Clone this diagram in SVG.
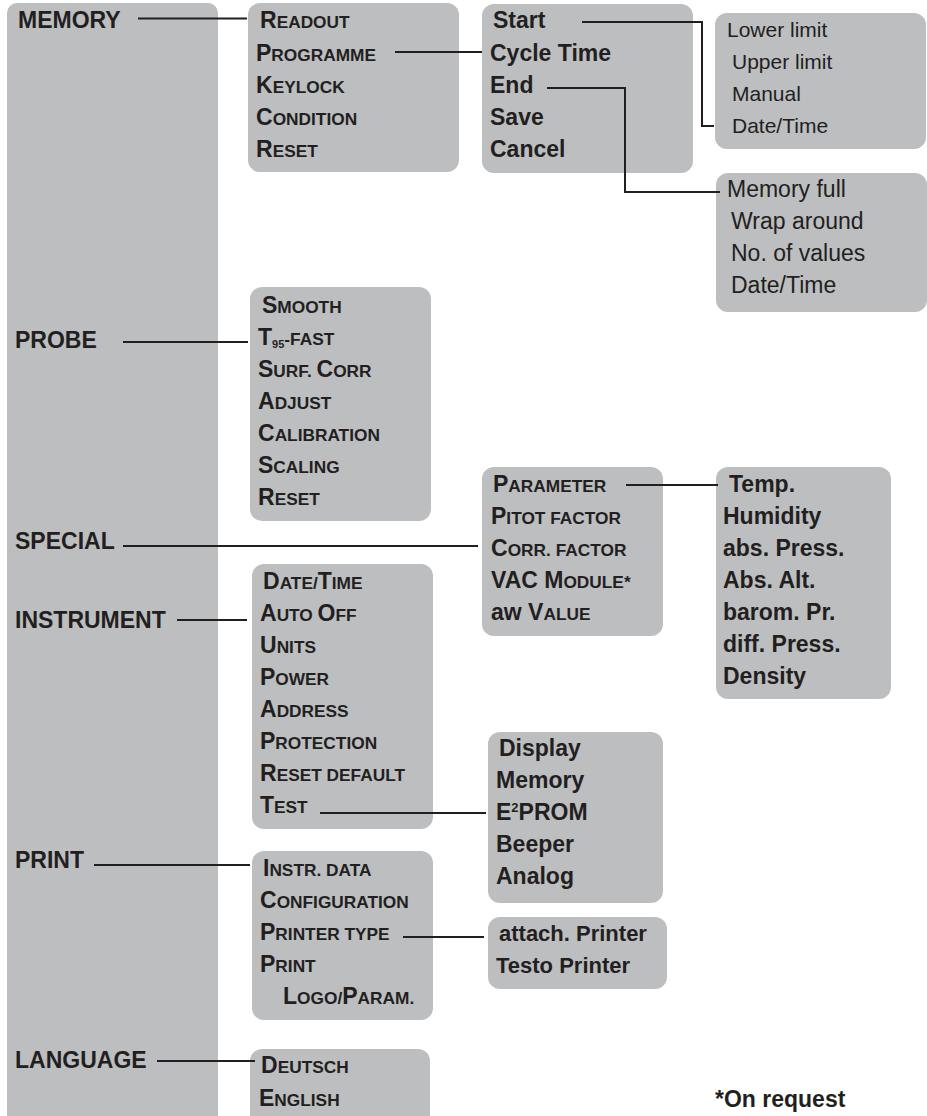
<svg xmlns="http://www.w3.org/2000/svg" width="927" height="1116" viewBox="0 0 927 1116">
<style>
.box{fill:#bcbec0}
.t{font-family:"Liberation Sans",Arial,sans-serif;font-weight:bold;font-size:23px;fill:#231f20}
.lt{font-weight:normal}
.sm{font-size:21px}
.pr{font-size:22px}
.sc{font-size:17.3px}
.sub{font-size:11px}
.sup{font-size:13px}
.conn{fill:none;stroke:#231f20;stroke-width:2}
</style>
<rect width="927" height="1116" fill="#ffffff"/>
<g id="main-menu">
<rect class="box" x="7" y="3" width="211" height="1130" rx="10"/>
<text class="t" x="18" y="28">MEMORY</text>
<text class="t" x="15" y="348">PROBE</text>
<text class="t" x="15" y="549">SPECIAL</text>
<text class="t" x="15" y="628">INSTRUMENT</text>
<text class="t" x="15" y="868">PRINT</text>
<text class="t" x="15" y="1068">LANGUAGE</text>
</g>
<g id="memory-menu">
<rect class="box" x="248" y="3" width="211" height="169" rx="12"/>
<text class="t" x="260" y="28">R<tspan class="sc">EADOUT</tspan></text>
<text class="t" x="256" y="61">P<tspan class="sc">ROGRAMME</tspan></text>
<text class="t" x="256" y="93">K<tspan class="sc">EYLOCK</tspan></text>
<text class="t" x="256" y="125">C<tspan class="sc">ONDITION</tspan></text>
<text class="t" x="256" y="157">R<tspan class="sc">ESET</tspan></text>
</g>
<g id="programme-menu">
<rect class="box" x="482" y="4" width="211" height="169" rx="12"/>
<text class="t" x="493" y="28">Start</text>
<text class="t" x="490" y="61">Cycle Time</text>
<text class="t" x="490" y="93">End</text>
<text class="t" x="490" y="125">Save</text>
<text class="t" x="490" y="157">Cancel</text>
</g>
<g id="start-menu">
<rect class="box" x="715" y="13" width="211" height="136" rx="12"/>
<text class="t lt sm" x="727" y="37">Lower limit</text>
<text class="t lt sm" x="732" y="69">Upper limit</text>
<text class="t lt sm" x="732" y="101">Manual</text>
<text class="t lt sm" x="732" y="133">Date/Time</text>
</g>
<g id="end-menu">
<rect class="box" x="716" y="173" width="211" height="139" rx="12"/>
<text class="t lt" x="727" y="197">Memory full</text>
<text class="t lt" x="731" y="229">Wrap around</text>
<text class="t lt" x="731" y="261">No. of values</text>
<text class="t lt" x="731" y="293">Date/Time</text>
</g>
<g id="probe-menu">
<rect class="box" x="250" y="287" width="181" height="234" rx="12"/>
<text class="t" x="262" y="313">S<tspan class="sc">MOOTH</tspan></text>
<text class="t" x="258" y="345">T<tspan class="sub" dy="3">95</tspan><tspan class="sc" dy="-3">-FAST</tspan></text>
<text class="t" x="258" y="377">S<tspan class="sc">URF. </tspan>C<tspan class="sc">ORR</tspan></text>
<text class="t" x="258" y="409">A<tspan class="sc">DJUST</tspan></text>
<text class="t" x="258" y="441">C<tspan class="sc">ALIBRATION</tspan></text>
<text class="t" x="258" y="473">S<tspan class="sc">CALING</tspan></text>
<text class="t" x="258" y="505">R<tspan class="sc">ESET</tspan></text>
</g>
<g id="special-menu">
<rect class="box" x="482" y="467" width="181" height="169" rx="12"/>
<text class="t" x="493" y="492">P<tspan class="sc">ARAMETER</tspan></text>
<text class="t" x="491" y="524">P<tspan class="sc">ITOT FACTOR</tspan></text>
<text class="t" x="491" y="556">C<tspan class="sc">ORR. FACTOR</tspan></text>
<text class="t" x="491" y="588">VAC M<tspan class="sc">ODULE*</tspan></text>
<text class="t" x="491" y="620">aw V<tspan class="sc">ALUE</tspan></text>
</g>
<g id="parameter-menu">
<rect class="box" x="716" y="467" width="175" height="232" rx="12"/>
<text class="t" x="729" y="492">Temp.</text>
<text class="t" x="723" y="524">Humidity</text>
<text class="t" x="723" y="556">abs. Press.</text>
<text class="t" x="723" y="588">Abs. Alt.</text>
<text class="t" x="723" y="620">barom. Pr.</text>
<text class="t" x="723" y="652">diff. Press.</text>
<text class="t" x="723" y="684">Density</text>
</g>
<g id="instrument-menu">
<rect class="box" x="252" y="564" width="181" height="265" rx="12"/>
<text class="t" x="263" y="589">D<tspan class="sc">ATE/</tspan>T<tspan class="sc">IME</tspan></text>
<text class="t" x="260" y="621">A<tspan class="sc">UTO </tspan>O<tspan class="sc">FF</tspan></text>
<text class="t" x="260" y="653">U<tspan class="sc">NITS</tspan></text>
<text class="t" x="260" y="685">P<tspan class="sc">OWER</tspan></text>
<text class="t" x="260" y="717">A<tspan class="sc">DDRESS</tspan></text>
<text class="t" x="260" y="749">P<tspan class="sc">ROTECTION</tspan></text>
<text class="t" x="260" y="781">R<tspan class="sc">ESET DEFAULT</tspan></text>
<text class="t" x="260" y="813">T<tspan class="sc">EST</tspan></text>
</g>
<g id="test-menu">
<rect class="box" x="488" y="732" width="175" height="171" rx="12"/>
<text class="t" x="499" y="756">Display</text>
<text class="t" x="496" y="788">Memory</text>
<text class="t" x="496" y="820">E<tspan class="sup" dy="-8">2</tspan><tspan dy="8">PROM</tspan></text>
<text class="t" x="496" y="852">Beeper</text>
<text class="t" x="496" y="884">Analog</text>
</g>
<g id="print-menu">
<rect class="box" x="252" y="851" width="181" height="169" rx="12"/>
<text class="t" x="263" y="876">I<tspan class="sc">NSTR. DATA</tspan></text>
<text class="t" x="260" y="908">C<tspan class="sc">ONFIGURATION</tspan></text>
<text class="t" x="260" y="940">P<tspan class="sc">RINTER TYPE</tspan></text>
<text class="t" x="260" y="972">P<tspan class="sc">RINT</tspan></text>
<text class="t" x="283" y="1004">L<tspan class="sc">OGO/</tspan>P<tspan class="sc">ARAM.</tspan></text>
</g>
<g id="printer-type-menu">
<rect class="box" x="488" y="917" width="179" height="72" rx="12"/>
<text class="t pr" x="499" y="941">attach. Printer</text>
<text class="t pr" x="496" y="973">Testo Printer</text>
</g>
<g id="language-menu">
<rect class="box" x="250" y="1049" width="180" height="90" rx="12"/>
<text class="t" x="261" y="1073">D<tspan class="sc">EUTSCH</tspan></text>
<text class="t" x="259" y="1106">E<tspan class="sc">NGLISH</tspan></text>
</g>
<g id="footnote">
<text class="t" x="715" y="1107">*On request</text>
</g>
<g id="connectors">
<path class="conn" d="M138 18.5H247"/>
<path class="conn" d="M395 52H482"/>
<path class="conn" d="M582 22H702V126H714"/>
<path class="conn" d="M547 88H625V192H720"/>
<path class="conn" d="M123 342H248"/>
<path class="conn" d="M123 546H478"/>
<path class="conn" d="M626 485H718"/>
<path class="conn" d="M177 620H247"/>
<path class="conn" d="M320 813H486"/>
<path class="conn" d="M94 865H250"/>
<path class="conn" d="M403 937H484"/>
<path class="conn" d="M157 1061H255"/>
</g>
</svg>
